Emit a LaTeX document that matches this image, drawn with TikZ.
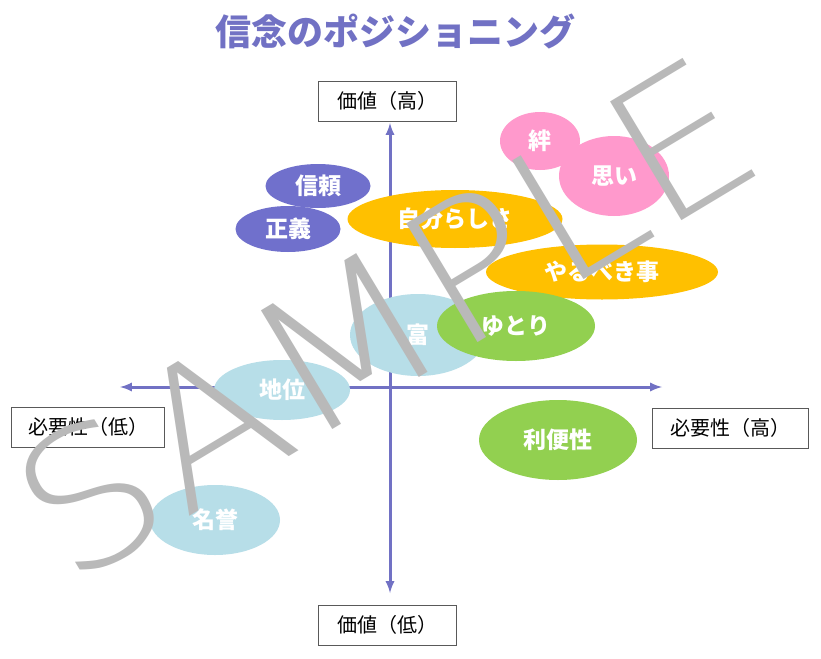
\documentclass[tikz,border=0pt]{standalone}
\usepackage{fontspec}
\usetikzlibrary{shapes.geometric}
\setmainfont{Noto Sans CJK JP}
\newfontfamily\samplefont{DejaVu Sans ExtraLight}
\definecolor{axisblue}{HTML}{7171C4}
\definecolor{trustpurple}{HTML}{7070CC}
\definecolor{selfgold}{HTML}{FFC000}
\definecolor{bondpink}{HTML}{FF99CC}
\definecolor{wealthblue}{HTML}{B7DEE8}
\definecolor{easegreen}{HTML}{92D050}
\begin{document}
\begin{tikzpicture}[x=1pt,y=-1pt,
    axis/.style={draw=axisblue, line width=3pt, <->, >=latex},
    label/.style={rectangle, draw=gray!70!black, fill=white, line width=0.8pt,
        minimum width=138pt, minimum height=40pt, font=\fontsize{20}{21}\selectfont},
    blob/.style={ellipse, inner sep=0pt, text=white,
        font=\bfseries\fontsize{23}{25}\selectfont}
]
\useasboundingbox (0,0) rectangle (821,658);
\fill[white] (0,0) rectangle (821,658);
\node[text=axisblue, font=\bfseries\fontsize{36}{38}\selectfont] (title) at (395,31) {信念のポジショニング};

% axes
\coordinate (xl) at (120,387);
\coordinate (xr) at (662,387);
\coordinate (yt) at (390,123);
\coordinate (yb) at (390,593);
\draw[axis] (xl) -- (xr);
\draw[axis] (yt) -- (yb);

\node [label] (vhigh) at (387,101) {価値（高）};
\node [label] (vlow) at (387,625) {価値（低）};
\node [label, minimum width=153pt] (nlow) at (88,427) {必要性（低）};
\node [label, minimum width=156pt] (nhigh) at (730,428) {必要性（高）};

\node [blob, fill=trustpurple, minimum width=105pt, minimum height=44pt] (trust) at (318,186) {信頼};
\node [blob, fill=trustpurple, minimum width=105pt, minimum height=46pt] (justice) at (288,229) {正義};
\node [blob, fill=selfgold, minimum width=215pt, minimum height=58pt] (self) at (455,219) {自分らしさ};
\node [blob, fill=bondpink, minimum width=80pt, minimum height=58pt] (bond) at (540,141) {絆};
\node [blob, fill=bondpink, minimum width=110pt, minimum height=80pt] (feel) at (614,176) {思い};
\node [blob, fill=selfgold, minimum width=232pt, minimum height=55pt] (duty) at (602,272) {やるべき事};
\node [blob, fill=wealthblue, minimum width=136pt, minimum height=82pt] (wealth) at (418,335) {富};
\node [blob, fill=easegreen, minimum width=158pt, minimum height=70pt] (ease) at (516,326) {ゆとり};
\node [blob, fill=wealthblue, minimum width=136pt, minimum height=60pt] (status) at (282,390) {地位};
\node [blob, fill=easegreen, minimum width=158pt, minimum height=80pt] (handy) at (558,440) {利便性};
\node [blob, fill=wealthblue, minimum width=130pt, minimum height=70pt] (honor) at (215,520) {名誉};

% watermark
\node[text=gray!55, rotate=31, xscale=1.08, font=\samplefont\fontsize{190}{190}\selectfont] (mark) at (385,318) {SAMPLE};
\end{tikzpicture}
\end{document}
